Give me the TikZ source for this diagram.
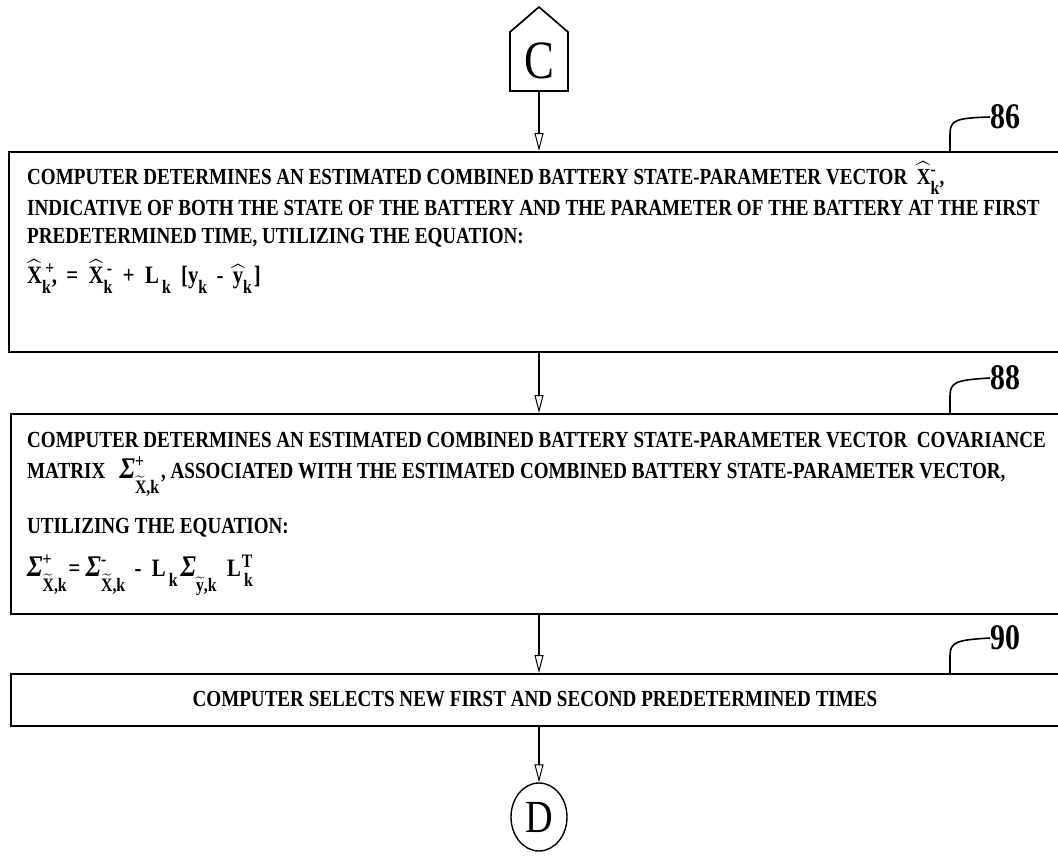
\RequirePackage{fix-cm}
\documentclass[tikz,border=0pt]{standalone}
\usepackage{amsmath}
\usepackage{fontspec}
\setmainfont{Liberation Serif}[FakeStretch=0.83]
\usetikzlibrary{arrows.meta,shapes.geometric}
\newcommand\Xh{$\widehat{\text{X}}$}
\newcommand\yh{$\widehat{\text{y}}$}
\newcommand\Xt{$\widetilde{\text{X}}$}
\newcommand\yt{$\widetilde{\text{y}}$}
\newcommand\Sg{{\fontsize{30}{30}\selectfont\itshape Σ}}
% sup/sub after a capital letter
\newcommand\ssc[2]{\makebox[0pt][l]{\raisebox{9pt}{\fontsize{19}{19}\selectfont #1}}\raisebox{-10pt}{\fontsize{19}{19}\selectfont #2}}
% sup/sub after a sigma
\newcommand\ssg[2]{\makebox[0pt][l]{\raisebox{11pt}{\fontsize{19}{19}\selectfont #1}}\raisebox{-15pt}{\fontsize{19}{19}\selectfont #2}}
\begin{document}
\begin{tikzpicture}[x=1pt,y=-1pt,
  box/.style={draw, line width=1.8pt, minimum width=1064pt, anchor=north west, inner sep=0pt},
  flow/.style={line width=1.3pt, -{Triangle[open,width=9pt,length=18pt,line width=1pt]}},
  txt/.style={anchor=base west, inner sep=0pt, font=\bfseries\fontsize{23}{28}\selectfont},
  eqn/.style={anchor=base west, inner sep=0pt, font=\bfseries\fontsize{25}{28}\selectfont},
  ctxt/.style={anchor=center, inner sep=0pt, font=\bfseries\fontsize{23}{28}\selectfont},
  lab/.style={font=\bfseries\fontsize{36}{36}\selectfont, anchor=west, inner sep=0pt},
  leader/.style={line width=1.6pt}]
\path[use as bounding box] (0,0) rectangle (1058,857);
\clip (0,0) rectangle (1058,857);
% connector C
\draw[line width=1.7pt] (510,91) -- (510,32) -- (539,7) -- (568,32) -- (568,91) -- cycle;
\node[font=\fontsize{54}{54}\selectfont, inner sep=0pt] (C) at (539,61) {C};
\coordinate (Cb) at (539,91);
\coordinate (x950) at (950,0);
% boxes
\node[box, minimum height=200pt] (b86) at (8,151) {};
\node[box, minimum height=200pt] (b88) at (10,413) {};
\node[box, minimum height=52pt] (b90) at (10,673) {};
\node[draw, ellipse, line width=1.4pt, minimum width=56pt, minimum height=68pt, inner sep=0pt,
      font=\fontsize{46}{46}\selectfont] (D) at (539,817) {D};
% box 86 text
\node[txt] (t861) at (27,184) {COMPUTER DETERMINES AN ESTIMATED COMBINED BATTERY STATE-PARAMETER VECTOR \ \Xh\ssc{-}{k},};
\node[txt] (t862) at (27,215) {INDICATIVE OF BOTH THE STATE OF THE BATTERY AND THE PARAMETER OF THE BATTERY AT THE FIRST};
\node[txt] (t863) at (27,243) {PREDETERMINED TIME, UTILIZING THE EQUATION:};
\node[eqn] (t864) at (27,283) {\Xh\ssc{\,+}{k}\kern1pt,\ \,= \ \Xh\ssc{\,-}{k}\ \ + \ L\ssc{}{\,k}\ \ [y\ssc{}{k} \,- \,\yh\ssc{}{k}\kern2pt]};
% box 88 text
\node[txt] (t881) at (27,447) {COMPUTER DETERMINES AN ESTIMATED COMBINED BATTERY STATE-PARAMETER VECTOR \ COVARIANCE};
\node[txt] (t882) at (27,478) {MATRIX \ \ \Sg\ssg{+}{\Xt,k}\kern2pt, ASSOCIATED WITH THE ESTIMATED COMBINED BATTERY STATE-PARAMETER VECTOR,};
\node[txt] (t883) at (27,533) {UTILIZING THE EQUATION:};
\node[eqn] (t884) at (27,576) {\Sg\ssg{+}{\Xt,k}\kern2pt= \Sg\ssg{-}{\Xt,k}\ \,- \ L\ssc{}{\,k}\kern3pt\Sg\ssg{}{\yt,k}\ \ L\ssc{\kern1pt T}{\,k}};
% box 90 text
\node[ctxt] (t90) at (535,699) {COMPUTER SELECTS NEW FIRST AND SECOND PREDETERMINED TIMES};
% flow arrows
\draw[flow] (Cb) -- (Cb |- b86.north);
\draw[flow] (b86.south -| Cb) -- (b88.north -| Cb);
\draw[flow] (b88.south -| Cb) -- (b90.north -| Cb);
\draw[flow] (b90.south -| Cb) -- (D.north);
% reference labels
\node[lab] (n86) at (990,117) {86};
\node[lab] (n88) at (990,378) {88};
\node[lab] (n90) at (990,638) {90};
\draw[leader] (b86.north -| x950) -- (950,134) .. controls (950,120) and (956,118) .. (n86.west);
\draw[leader] (b88.north -| x950) -- (950,396) .. controls (950,382) and (956,380) .. (n88.west);
\draw[leader] (b90.north -| x950) -- (950,656) .. controls (950,642) and (956,640) .. (n90.west);
\end{tikzpicture}
\end{document}
